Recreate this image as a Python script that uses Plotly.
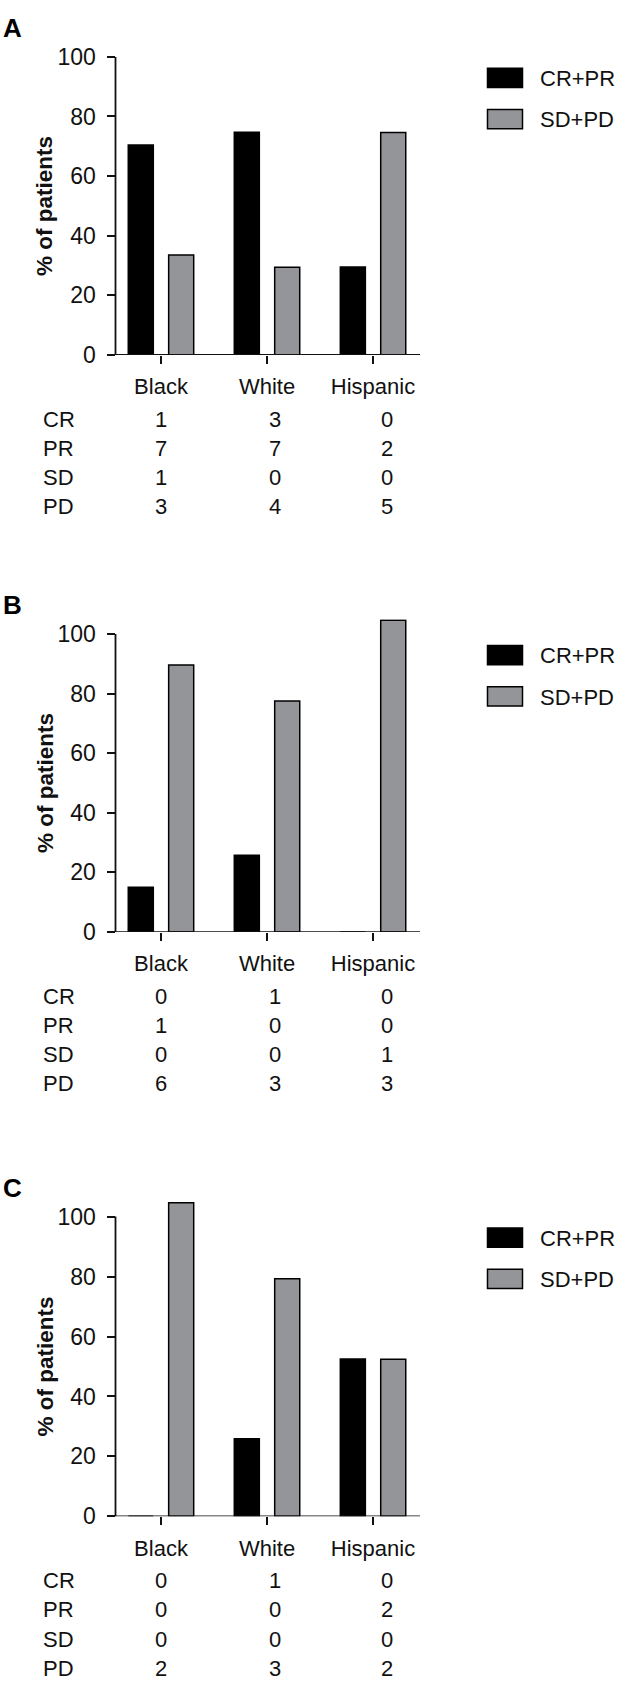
import plotly.graph_objects as go

W, H = 617, 1700

categories = ["Black", "White", "Hispanic"]
series_names = ["CR+PR", "SD+PD"]
row_labels = ["CR", "PR", "SD", "PD"]
panel_letters = ["A", "B", "C"]

# % of patients
A_crpr = [70.4, 74.7, 29.5]
A_sdpd = [33.5, 29.4, 74.6]
B_crpr = [15.0, 25.8, 0.0]
B_sdpd = [89.6, 77.5, 104.6]
C_crpr = [0.0, 25.9, 52.5]
C_sdpd = [104.6, 79.3, 52.4]

# patient counts table (rows CR, PR, SD, PD; columns Black, White, Hispanic)
A_table = [[1, 3, 0], [7, 7, 2], [1, 0, 0], [3, 4, 5]]
B_table = [[0, 1, 0], [1, 0, 0], [0, 0, 1], [6, 3, 3]]
C_table = [[0, 1, 0], [0, 0, 2], [0, 0, 0], [2, 3, 2]]

y_ticks = [0, 20, 40, 60, 80, 100]
y_max = [100, 105, 105]

FONT = "Liberation Sans, Arial, Helvetica, sans-serif"
BLACK = "#000000"
GREY = "#939598"
FS = 22

# layout (pixel positions)
baselines = [347.3, 933.3, 1526.7]
tops100 = [44.5, 630.7, 1222.3]
x_axis_px = (115.5, 420.0)
x_range = [-0.429, 2.443]
table_cols_px = [161.0, 274.5, 387.0]


def px(xp):
    return xp / W


def py(yp):
    return 1 - yp / H


fig = go.Figure()
crpr_all = [A_crpr, B_crpr, C_crpr]
sdpd_all = [A_sdpd, B_sdpd, C_sdpd]
tables = [A_table, B_table, C_table]

annotations = []
shapes = []

for i in range(3):
    n = "" if i == 0 else str(i + 1)
    xa, ya = "x" + n, "y" + n
    base, t100, ym = baselines[i], tops100[i], y_max[i]
    top = base - (base - t100) * ym / 100.0
    fig.add_trace(go.Bar(x=categories, y=crpr_all[i], name=series_names[0],
                         marker=dict(color=BLACK, line=dict(color=BLACK, width=1.5)),
                         xaxis=xa, yaxis=ya, showlegend=False))
    fig.add_trace(go.Bar(x=categories, y=sdpd_all[i], name=series_names[1],
                         marker=dict(color=GREY, line=dict(color=BLACK, width=1.5)),
                         xaxis=xa, yaxis=ya, showlegend=False))
    fig.layout["xaxis" + n] = dict(
        domain=[px(x_axis_px[0]), px(x_axis_px[1])], range=x_range,
        anchor=ya, showline=False, showgrid=False, zeroline=False,
        ticks="outside", ticklen=8, tickwidth=1.5, tickcolor="#111",
        tickfont=dict(family=FONT, size=FS, color="#111"),
        ticklabelstandoff=4, fixedrange=True)
    fig.layout["yaxis" + n] = dict(
        domain=[py(base), py(top)], range=[0, ym], anchor=xa,
        showline=False, showgrid=False, zeroline=False,
        tickvals=y_ticks, ticks="outside", ticklen=8, tickwidth=1.5, tickcolor="#111",
        tickfont=dict(family=FONT, size=23, color="#111"), ticklabelstandoff=6,
        fixedrange=True)
    # y axis line from 0 to 100
    shapes.append(dict(type="line", xref=xa + " domain", yref=ya, x0=0, x1=0, y0=0, y1=100,
                       line=dict(color="#111", width=1.8)))
    # x axis baseline (extends under y ticks)
    shapes.append(dict(type="line", xref="paper", yref=ya, x0=px(x_axis_px[0] - 8), x1=px(x_axis_px[1]),
                       y0=0, y1=0, line=dict(color="#111", width=1.8)))
    # y title
    annotations.append(dict(text="<b>% of patients</b>", textangle=-90, xref="paper", yref="paper",
                            x=px(45), y=py((base + t100) / 2), showarrow=False,
                            font=dict(family=FONT, size=22.5, color="#111"),
                            xanchor="center", yanchor="middle"))
    # panel letter
    annotations.append(dict(text="<b>" + panel_letters[i] + "</b>", xref="paper", yref="paper",
                            x=px(1), y=py(t100 - 29), showarrow=False,
                            font=dict(family=FONT, size=26, color="#000"),
                            xanchor="left", yanchor="middle"))
    # legend
    for k, (nm, col) in enumerate(zip(series_names, [BLACK, GREY])):
        cy = t100 + 21.4 + 41.8 * k
        shapes.append(dict(type="rect", xref="paper", yref="paper",
                           x0=px(487.5), x1=px(522.5), y0=py(cy - 9.8), y1=py(cy + 9.8),
                           fillcolor=col, line=dict(color=BLACK, width=1.5)))
        annotations.append(dict(text=nm, xref="paper", yref="paper", x=px(537.5), y=py(cy + 0.8),
                                showarrow=False, xanchor="left", yanchor="middle",
                                font=dict(family=FONT, size=FS, color="#111")))
    # table
    for r, lab in enumerate(row_labels):
        ry = base + 65.5 + 29.6 * r
        annotations.append(dict(text=lab, xref="paper", yref="paper", x=px(41), y=py(ry),
                                showarrow=False, xanchor="left", yanchor="middle",
                                font=dict(family=FONT, size=FS, color="#111")))
        for c in range(3):
            annotations.append(dict(text=str(tables[i][r][c]), xref="paper", yref="paper",
                                    x=px(table_cols_px[c]), y=py(ry), showarrow=False,
                                    xanchor="center", yanchor="middle",
                                    font=dict(family=FONT, size=FS, color="#111")))

fig.update_layout(
    width=W, height=H, autosize=False,
    margin=dict(l=0, r=0, t=0, b=0, pad=0),
    paper_bgcolor="white", plot_bgcolor="white",
    barmode="group", bargap=0.238, bargroupgap=0.38,
    showlegend=False,
    annotations=annotations, shapes=shapes,
    font=dict(family=FONT, size=FS, color="#111"),
)

fig.write_html("out.html", config={"displayModeBar": False},
               post_script="document.body.style.margin='0px';document.body.style.overflow='hidden';")
